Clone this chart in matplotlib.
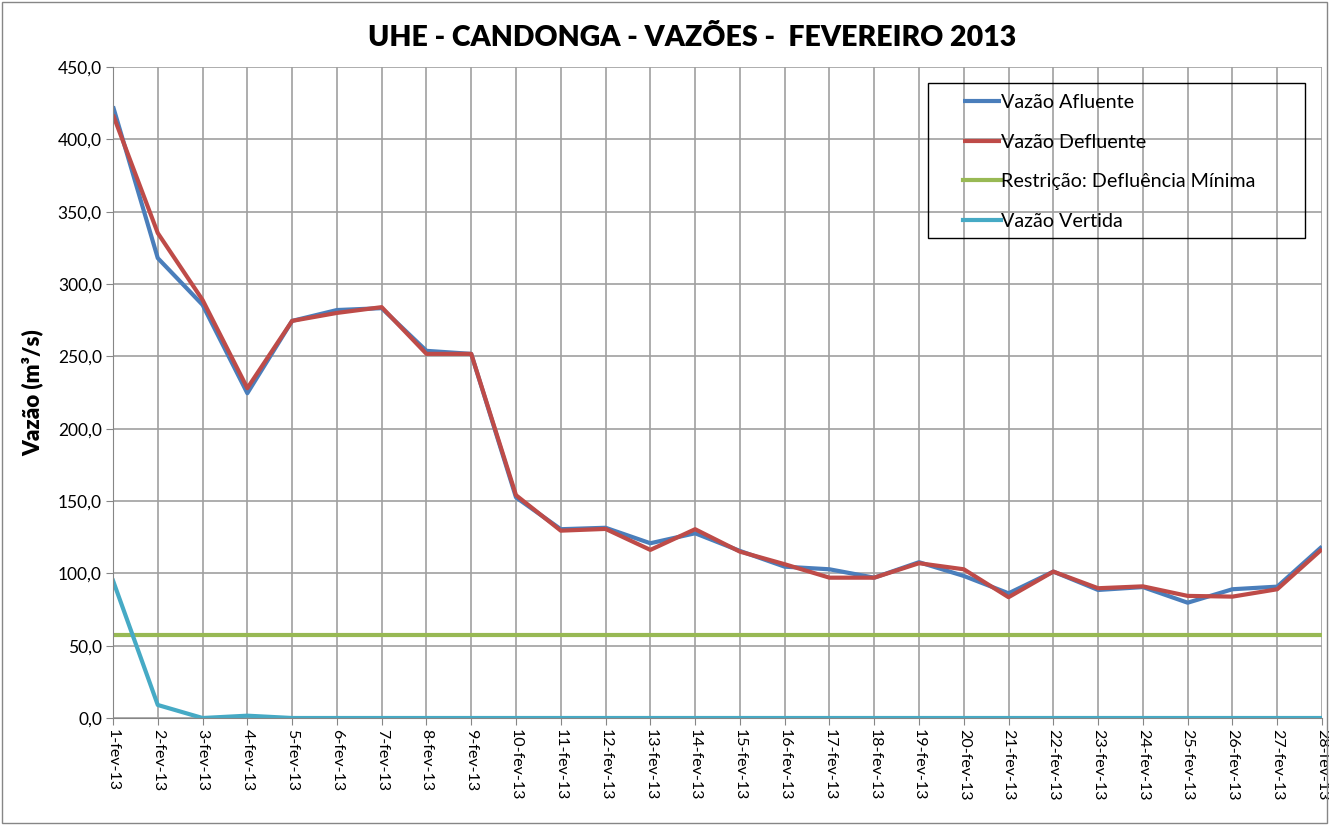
import numpy as np
import matplotlib
matplotlib.use('Agg')
import matplotlib.pyplot as plt
from matplotlib.ticker import FuncFormatter

plt.rcParams['font.family'] = ['Lato', 'DejaVu Sans']

# Daily values, February 2013
dias = ['%d-fev-13' % d for d in range(1, 29)]
afluente = [422.8, 317.9, 285.6, 224.5, 274.5, 282.0, 283.3, 253.8, 251.7, 152.5,
            130.5, 131.5, 120.8, 127.7, 115.5, 104.6, 102.8, 97.0, 107.7, 98.2,
            86.2, 101.2, 88.5, 90.5, 79.7, 89.0, 90.8, 118.5]
defluente = [417.0, 335.2, 289.0, 228.0, 274.5, 280.0, 284.0, 251.7, 251.7, 154.0,
             129.5, 130.7, 116.2, 130.5, 115.0, 106.3, 97.0, 97.0, 107.0, 102.8,
             83.5, 101.2, 89.7, 91.0, 84.4, 83.9, 89.0, 116.7]
restricao = [57.6] * 28
vertida = [95.0, 9.0, 0.0, 1.6] + [0.0] * 24

fig = plt.figure(figsize=(13.29, 8.25), dpi=100)
ax = fig.add_axes([113/1329, 1-718/825, (1322-113)/1329, (718-67)/825])

x = np.arange(len(dias))
ax.plot(x, afluente, color='#4a7ebb', lw=3, label='Vazão Afluente', solid_capstyle='butt')
ax.plot(x, defluente, color='#be4b48', lw=3, label='Vazão Defluente', solid_capstyle='butt')
ax.plot(x, restricao, color='#98b954', lw=3, label='Restrição: Defluência Mínima')
ax.plot(x, vertida, color='#46aac5', lw=3, label='Vazão Vertida')

ax.set_xlim(0, len(dias) - 1)
ax.set_ylim(0, 450)
ax.set_yticks(np.arange(0, 451, 50))
ax.yaxis.set_major_formatter(FuncFormatter(lambda v, p: ('%.1f' % v).replace('.', ',')))
ax.set_xticks(x)
ax.set_xticklabels(dias, rotation=-90, fontsize=11.5)
ax.tick_params(axis='y', labelsize=12.5, length=5, color='#868686', pad=3)
ax.tick_params(axis='x', length=5, color='#868686', pad=3)
ax.grid(True, color='#a0a0a0', lw=1.2)
ax.set_axisbelow(True)
for s in ['top', 'right']:
    ax.spines[s].set_visible(False)
for s in ['left', 'bottom']:
    ax.spines[s].set_color('#868686')

ax.set_ylabel('Vazão (m³/s)', fontsize=16, fontweight='heavy', labelpad=10)
fig.text(692/1329, 1-38/825, 'UHE - CANDONGA - VAZÕES -  FEVEREIRO 2013', ha='center', va='center',
         fontsize=20.5, fontweight='heavy')

# legend box drawn separately (wide padding like the original)
fig.patches.append(plt.Rectangle((928/1329, 1-238/825), (1305-928)/1329, (238-83)/825,
                                 transform=fig.transFigure, fill=False, edgecolor='black', lw=1.0, zorder=5))
leg = ax.legend(loc='upper left', bbox_to_anchor=(963/1329, 1-94/825), bbox_transform=fig.transFigure,
                fontsize=14.2, frameon=False, handlelength=1.95, handletextpad=0.0,
                labelspacing=1.15, borderpad=0.0, borderaxespad=0)

# outer chart border
fig.patches.append(plt.Rectangle((2/1329, 2/825), 1-4/1329, 1-4/825, transform=fig.transFigure,
                                 fill=False, edgecolor='#868686', lw=1))

fig.savefig('out.png', dpi=100)
